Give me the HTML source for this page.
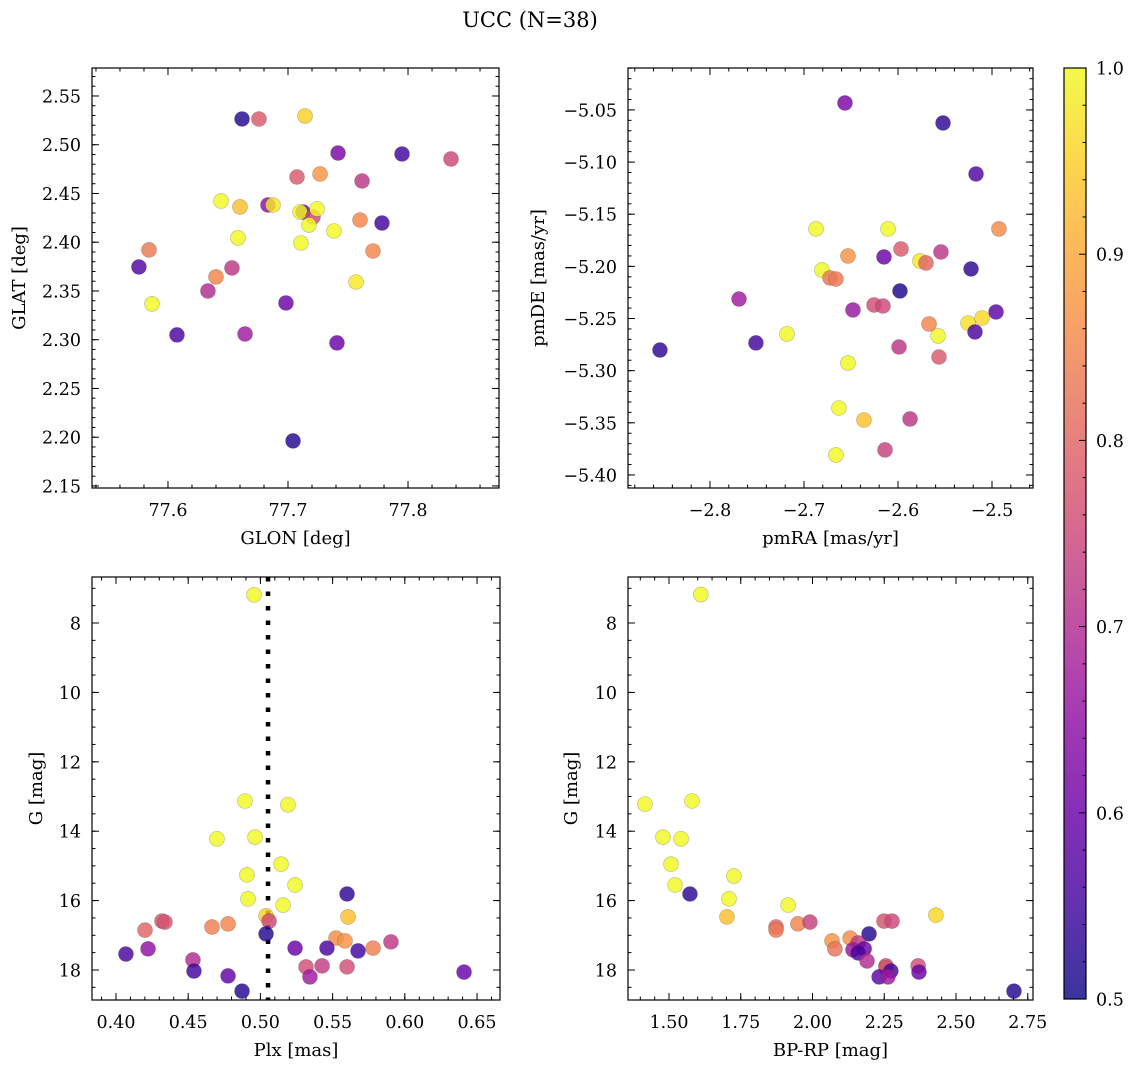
<!DOCTYPE html>
<html><head><meta charset="utf-8">
<style>
html,body{margin:0;padding:0;background:#fff;}
svg{display:block;font-family:"DejaVu Serif","Liberation Serif",serif;}
</style></head>
<body>
<svg id="fig" width="1136" height="1067" viewBox="0 0 1136 1067" xmlns="http://www.w3.org/2000/svg">
<text x="530" y="27" font-size="21" text-anchor="middle">UCC (N=38)</text>
<g id="layer"></g>
</svg>
<script>
// ---- Data ----
const glon = [77.6617,77.6758,77.7142,77.7417,77.795,77.8358,77.7075,77.7267,77.7617,77.6442,77.66,77.6833,77.6875,77.7125,77.71,77.7208,77.7242,77.7175,77.7383,77.76,77.7783,77.6583,77.7108,77.5842,77.7708,77.5758,77.6533,77.64,77.7567,77.6333,77.5867,77.6983,77.6075,77.6642,77.7408,77.7042];
const glat = [2.5264,2.5264,2.5295,2.4915,2.4905,2.4854,2.4669,2.47,2.4628,2.4423,2.4362,2.4382,2.4382,2.431,2.431,2.4259,2.4341,2.4177,2.4115,2.4228,2.4197,2.4044,2.3992,2.3921,2.391,2.3746,2.3736,2.3644,2.3592,2.35,2.3367,2.3377,2.3049,2.3059,2.2967,2.1962];
const probPos = [0.52,0.78,0.95,0.62,0.55,0.75,0.78,0.87,0.72,1.0,0.93,0.65,0.98,0.6,1.0,0.75,1.0,1.0,1.0,0.85,0.55,1.0,1.0,0.83,0.85,0.57,0.72,0.85,0.98,0.7,1.0,0.6,0.56,0.67,0.6,0.52];

const pmra = [-2.6564,-2.5521,-2.517,-2.6872,-2.6106,-2.4926,-2.5968,-2.6532,-2.6149,-2.5543,-2.5766,-2.5702,-2.5223,-2.6809,-2.6723,-2.666,-2.5979,-2.7691,-2.6479,-2.6255,-2.616,-2.4957,-2.5106,-2.5255,-2.567,-2.5181,-2.5574,-2.7181,-2.7511,-2.8532,-2.5989,-2.5564,-2.6532,-2.6628,-2.6362,-2.5872,-2.6138,-2.666];
const pmde = [-5.0433,-5.0625,-5.1114,-5.1641,-5.1641,-5.1641,-5.1833,-5.19,-5.191,-5.1862,-5.1948,-5.1967,-5.2025,-5.2035,-5.2111,-5.2121,-5.2236,-5.2313,-5.2418,-5.237,-5.238,-5.2437,-5.2495,-5.2543,-5.2552,-5.2629,-5.2667,-5.2648,-5.2734,-5.2802,-5.2773,-5.2869,-5.2926,-5.3358,-5.3473,-5.3463,-5.376,-5.3808];
const probPm = [0.62,0.53,0.57,1.0,1.0,0.86,0.78,0.87,0.6,0.72,0.98,0.8,0.53,1.0,0.83,0.83,0.51,0.67,0.66,0.76,0.75,0.58,0.96,0.97,0.85,0.56,1.0,1.0,0.55,0.53,0.72,0.78,1.0,1.0,0.93,0.72,0.74,1.0];

const plx = [0.4956,0.4893,0.5191,0.4699,0.4963,0.5143,0.4907,0.524,0.4914,0.5157,0.56,0.5039,0.506,0.5607,0.5039,0.4201,0.4319,0.4339,0.4665,0.4776,0.5524,0.5586,0.578,0.5904,0.4069,0.4222,0.524,0.5461,0.5676,0.4533,0.454,0.4776,0.4873,0.5316,0.5427,0.5343,0.56,0.641];
const gPlx = [7.19,13.13,13.24,14.22,14.17,14.95,15.26,15.55,15.95,16.13,15.81,16.44,16.59,16.47,16.96,16.85,16.59,16.62,16.76,16.67,17.08,17.16,17.37,17.19,17.54,17.39,17.37,17.37,17.45,17.71,18.03,18.17,18.61,17.91,17.88,18.2,17.91,18.06];
const probPlx = [1,1,1,1,1,1,1,1,1,1,0.53,0.95,0.75,0.93,0.52,0.8,0.77,0.77,0.84,0.85,0.86,0.87,0.84,0.72,0.56,0.65,0.6,0.56,0.55,0.7,0.55,0.59,0.52,0.76,0.73,0.67,0.76,0.6];
const plxMean = [0.5053];

const bprp = [1.416,1.58,1.479,1.542,1.507,1.521,1.573,1.726,1.709,1.702,1.915,2.43,1.873,1.873,1.949,1.991,2.249,2.277,2.197,2.068,2.078,2.131,2.159,2.141,2.18,2.159,2.19,2.256,2.256,2.273,2.232,2.263,2.368,2.371,2.702,1.611];
const gCmd = [13.22,13.13,14.17,14.22,14.95,15.55,15.81,15.29,15.95,16.47,16.13,16.42,16.76,16.85,16.67,16.62,16.59,16.59,16.96,17.16,17.39,17.08,17.22,17.42,17.39,17.51,17.74,17.88,17.94,18.03,18.2,18.2,17.88,18.06,18.61,7.18];
const probCmd = [1,1,1,1,1,1,0.53,1,1,0.93,1,0.96,0.8,0.83,0.85,0.74,0.77,0.75,0.52,0.87,0.82,0.86,0.72,0.66,0.6,0.56,0.7,0.76,0.77,0.55,0.58,0.67,0.76,0.6,0.52,1];

const cbTicks = ["0.5","0.6","0.7","0.8","0.9","1.0"];

// ---- helpers ----
const NS = "http://www.w3.org/2000/svg";
const layer = document.getElementById('layer');
const TICKFS = 17.5, LABFS = 18;
function mk(tag, attrs, parent){
  const e = document.createElementNS(NS, tag);
  for (const k in attrs) e.setAttribute(k, attrs[k]);
  (parent||layer).appendChild(e);
  return e;
}
const plasma = [[13,8,135],[65,4,157],[106,0,168],[143,13,164],[177,42,144],[204,71,120],[225,100,98],[242,132,75],[252,166,54],[252,206,37],[240,249,33]];
function cmap(p){
  let t = (p-0.5)/0.5; t = Math.max(0,Math.min(1,t));
  const f = t*10, i = Math.min(9, Math.floor(f)), r = f-i;
  const a = plasma[i], b = plasma[i+1];
  return 'rgb('+[0,1,2].map(k=>Math.round(a[k]+(b[k]-a[k])*r)).join(',')+')';
}
function fmt(v, d){ const s = Math.abs(v).toFixed(d); return (v < -1e-9 ? '\u2212' : '') + s; }

function panel(cfg){
  const {x0,x1,y0,y1,xmin,xmax,ymin,ymax,invY,name} = cfg;
  const g = mk('g', {});
  
  
  const sx = v => x0 + (v-xmin)/(xmax-xmin)*(x1-x0);
  const sy = invY ? (v => y0 + (v-ymin)/(ymax-ymin)*(y1-y0)) : (v => y1 - (v-ymin)/(ymax-ymin)*(y1-y0));
  const tg = mk('g', {stroke:'#000','stroke-width':1}, g);
  function ticksX(step, len, labels, dec){
    const s = Math.ceil(xmin/step-1e-6);
    for (let k=s; k*step<=xmax+1e-9; k++){
      const v = k*step, px = sx(v);
      mk('line',{x1:px,x2:px,y1:y1,y2:y1-len},tg);
      mk('line',{x1:px,x2:px,y1:y0,y2:y0+len},tg);
      if (labels){
        const t = mk('text',{x:px,y:y1+28,'font-size':TICKFS,'text-anchor':'middle',stroke:'none',fill:'#000'},g);
        t.textContent = fmt(v, dec);
        
        
      }
    }
  }
  function ticksY(step, len, labels, dec){
    const lo = Math.min(ymin,ymax), hi = Math.max(ymin,ymax);
    const s = Math.ceil(lo/step-1e-6);
    for (let k=s; k*step<=hi+1e-9; k++){
      const v = k*step, py = sy(v);
      mk('line',{x1:x0,x2:x0+len,y1:py,y2:py},tg);
      mk('line',{x1:x1,x2:x1-len,y1:py,y2:py},tg);
      if (labels){
        const t = mk('text',{x:x0-11,y:py+6.5,'font-size':TICKFS,'text-anchor':'end',stroke:'none',fill:'#000'},g);
        t.textContent = fmt(v, dec);
        
        
      }
    }
  }
  ticksX(cfg.xmin_step, 3.5, false);
  ticksX(cfg.xmaj, 7, true, cfg.xdec);
  ticksY(cfg.ymin_step, 3.5, false);
  ticksY(cfg.ymaj, 7, true, cfg.ydec);
  if (cfg.vline){
    const px = sx(cfg.vline[0]);
    const l = mk('line',{x1:px,x2:px,y1:y0,y2:y1,stroke:'#000','stroke-width':4.5,'stroke-dasharray':'4.5 10'},g);
    
    
  }
  const pg = mk('g', {}, g);
  for (let i=0;i<cfg.xs.length;i++){
    const c = mk('circle',{cx:sx(cfg.xs[i]),cy:sy(cfg.ys[i]),r:7.5,fill:cmap(cfg.ps[i]),'fill-opacity':0.82,stroke:'rgba(60,60,40,0.35)','stroke-width':0.6},pg);
    
    
  }
  const fr = mk('rect',{x:x0,y:y0,width:x1-x0,height:y1-y0,fill:'none',stroke:'#000','stroke-width':1.2},g);
  
  
  const xl = mk('text',{x:(x0+x1)/2,y:y1+56,'font-size':LABFS,'text-anchor':'middle'},g);
  xl.textContent = cfg.xlabel;
  
  
  const cy = (y0+y1)/2;
  const yl = mk('text',{x:cfg.ylx,y:cy,'font-size':LABFS,'text-anchor':'middle',transform:'rotate(-90 '+cfg.ylx+' '+cy+')'},g);
  yl.textContent = cfg.ylabel;
  
  
}

panel({name:'position-panel',x0:92,x1:499,y0:68,y1:488,xmin:77.5367,xmax:77.8758,ymin:2.1479,ymax:2.5787,
  xmaj:0.1,xmin_step:0.02,xdec:1,ymaj:0.05,ymin_step:0.01,ydec:2,xs:glon,ys:glat,ps:probPos,
  xlabel:'GLON [deg]',ylabel:'GLAT [deg]',ylx:25});
panel({name:'proper-motion-panel',x0:628,x1:1033,y0:68,y1:488,xmin:-2.8872,xmax:-2.4564,ymin:-5.4125,ymax:-5.0098,
  xmaj:0.1,xmin_step:0.02,xdec:1,ymaj:0.05,ymin_step:0.01,ydec:2,xs:pmra,ys:pmde,ps:probPm,
  xlabel:'pmRA [mas/yr]',ylabel:'pmDE [mas/yr]',ylx:544});
panel({name:'parallax-panel',x0:92,x1:500,y0:577,y1:1000,xmin:0.3834,xmax:0.6659,ymin:6.674,ymax:18.865,invY:true,
  xmaj:0.05,xmin_step:0.01,xdec:2,ymaj:2,ymin_step:0.5,ydec:0,xs:plx,ys:gPlx,ps:probPlx,vline:plxMean,
  xlabel:'Plx [mas]',ylabel:'G [mag]',ylx:42});
panel({name:'cmd-panel',x0:628,x1:1033,y0:577,y1:1000,xmin:1.3571,xmax:2.7683,ymin:6.674,ymax:18.865,invY:true,
  xmaj:0.25,xmin_step:0.05,xdec:2,ymaj:2,ymin_step:0.5,ydec:0,xs:bprp,ys:gCmd,ps:probCmd,
  xlabel:'BP-RP [mag]',ylabel:'G [mag]',ylx:577});

(function(){
  const cx0=1064, cx1=1086, cy0=68, cy1=999;
  const defs = mk('defs',{});
  const lg = mk('linearGradient',{id:'cbg',x1:0,y1:1,x2:0,y2:0},defs);
  plasma.forEach((c,i)=>mk('stop',{offset:(i/10),'stop-color':'rgb('+c.join(',')+')'},lg));
  const g = mk('g',{});
  
  
  mk('rect',{x:cx0,y:cy0,width:cx1-cx0,height:cy1-cy0,fill:'url(#cbg)','fill-opacity':0.82},g);
  mk('rect',{x:cx0,y:cy0,width:cx1-cx0,height:cy1-cy0,fill:'none',stroke:'#000','stroke-width':1.2},g);
  const sy = v => cy1 - (v-0.5)/0.5*(cy1-cy0);
  for (let k=0;k<=25;k++){
    const v = 0.5 + k*0.02, py = sy(v);
    const major = (k%5===0);
    mk('line',{x1:cx1,x2:cx1-(major?7:3.5),y1:py,y2:py,stroke:'#000','stroke-width':1},g);
  }
  cbTicks.forEach(s=>{
    const t = mk('text',{x:cx1+10,y:sy(parseFloat(s))+6.5,'font-size':TICKFS},g);
    t.textContent = s;
    
    
  });
})();
</script>
</body></html>
